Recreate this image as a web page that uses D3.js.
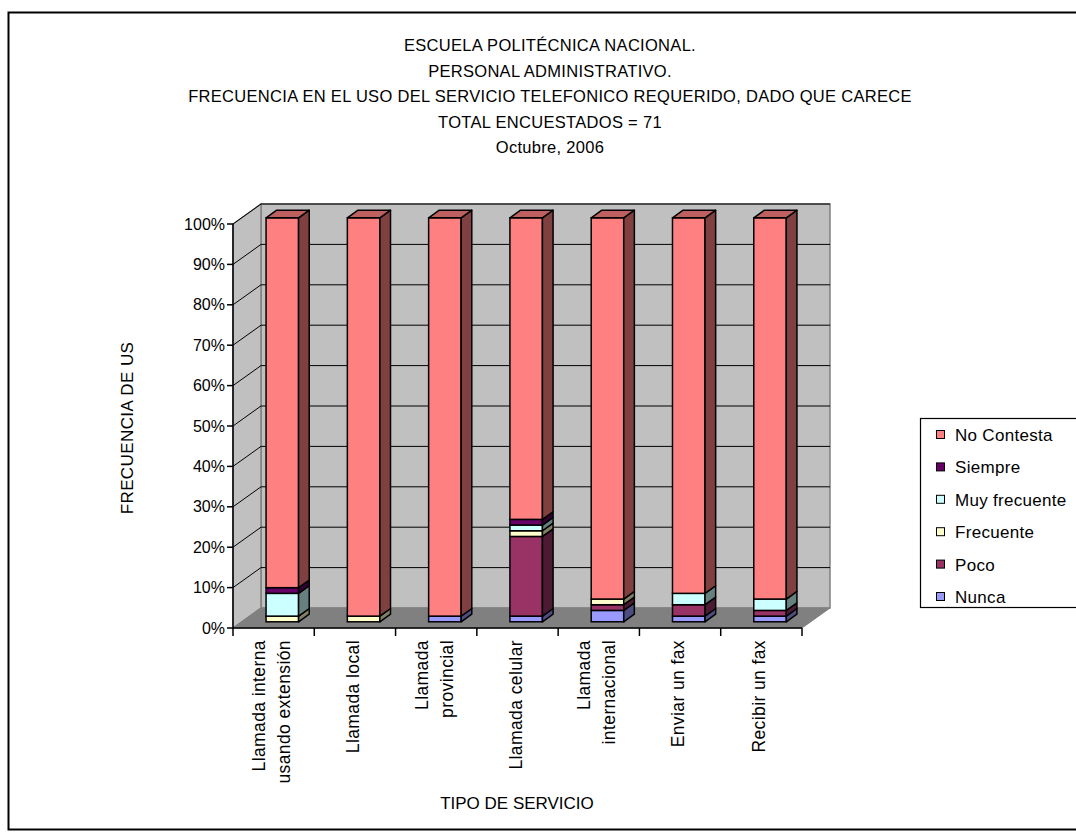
<!DOCTYPE html>
<html><head><meta charset="utf-8">
<script src="https://cdn.jsdelivr.net/npm/d3@7"></script>
<style>body{margin:0;background:#fff}svg{display:block}text{font-family:"Liberation Sans",Arial,sans-serif;fill:#000}</style>
</head><body>
<script>
const titleLines = ["ESCUELA POLITÉCNICA NACIONAL.","PERSONAL ADMINISTRATIVO.","FRECUENCIA EN EL USO DEL SERVICIO TELEFONICO REQUERIDO, DADO QUE CARECE","TOTAL ENCUESTADOS = 71","Octubre, 2006"];
const total = 71;
const categories = ["Llamada interna usando extensión","Llamada local","Llamada provincial","Llamada celular","Llamada internacional","Enviar un fax","Recibir un fax"];
const categoryLines = [["Llamada interna","usando extensión"],["Llamada local"],["Llamada","provincial"],["Llamada celular"],["Llamada","internacional"],["Enviar un fax"],["Recibir un fax"]];
const seriesNames = ["Nunca","Poco","Frecuente","Muy frecuente","Siempre","No Contesta"];
const nunca        = [0,0,1,1,2,1,1];
const poco         = [0,0,0,14,1,2,1];
const frecuente    = [1,1,0,1,1,0,0];
const muyFrecuente = [4,0,0,1,0,2,2];
const siempre      = [1,0,0,1,0,0,0];
const noContesta   = [65,70,70,53,67,66,67];
const seriesColors = ["#9999FF","#993366","#FFFFCC","#CCFFFF","#660066","#FF8080"];
const yTicks = [0,10,20,30,40,50,60,70,80,90,100];

const seriesValues = [nunca,poco,frecuente,muyFrecuente,siempre,noContesta];
const W=1076,H=840;
const svg=d3.select("body").append("svg").attr("width",W).attr("height",H);
svg.append("rect").attr("x",8.5).attr("y",12.5).attr("width",1080).attr("height",817).attr("fill","#fff").attr("stroke","#000").attr("stroke-width",2);

const x0=233,x1=802,yBot=628,yTop=224,DX=28,DY=-20;
const x=d3.scaleBand().domain(categories).range([x0,x1]).paddingInner(0.6).paddingOuter(0.3);
const y=d3.scaleLinear().domain([0,100]).range([yBot,yTop]);
const step=x.step();

// title
svg.append("g").selectAll("text").data(titleLines).join("text")
 .attr("x",550).attr("y",(d,i)=>51+i*25.5).attr("text-anchor","middle").attr("font-size",16.5).attr("letter-spacing",0.3).text(d=>d);

// walls
const g=svg.append("g");
g.append("polygon").attr("points",[[x0+DX,yTop+DY],[x1+DX,yTop+DY],[x1+DX,yBot+DY],[x0+DX,yBot+DY]].join(" ")).attr("fill","#C0C0C0").attr("stroke","#808080").attr("stroke-width",1.5);
g.append("polygon").attr("points",[[x0,yTop],[x0+DX,yTop+DY],[x0+DX,yBot+DY],[x0,yBot]].join(" ")).attr("fill","#C0C0C0").attr("stroke","#808080").attr("stroke-width",1.5);
g.append("polygon").attr("points",[[x0,yBot],[x1,yBot],[x1+DX,yBot+DY],[x0+DX,yBot+DY]].join(" ")).attr("fill","#808080").attr("stroke","#808080");
// gridlines
yTicks.filter(t=>t>0).forEach(t=>{
  g.append("line").attr("x1",x0).attr("y1",y(t)).attr("x2",x0+DX).attr("y2",y(t)+DY).attr("stroke","#000").attr("stroke-width",1);
  g.append("line").attr("x1",x0+DX).attr("y1",y(t)+DY).attr("x2",x1+DX).attr("y2",y(t)+DY).attr("stroke","#000").attr("stroke-width",1);
});

// bars
const f0=0.31,f1=0.69;
const fdx=DX*f0,fdy=DY*f0,bdx=DX*(f1-f0),bdy=DY*(f1-f0);
function shade(c,k){const r=d3.rgb(c);return d3.rgb(r.r*k,r.g*k,r.b*k).formatHex();}
const bars=svg.append("g");
categories.forEach((c,ci)=>{
  let cum=0;
  const bx=x(c)+fdx,bw=x.bandwidth();
  const segs=[];
  seriesValues.forEach((arr,si)=>{
    const v=arr[ci]/total*100;
    if(arr[ci]>0) segs.push({si,a:cum,b:cum+v});
    cum+=v;
  });
  segs.forEach((s,k)=>{
    const ya=y(s.a)+fdy,yb=y(s.b)+fdy,col=seriesColors[s.si];
    bars.append("rect").attr("x",bx).attr("y",yb).attr("width",bw).attr("height",ya-yb).attr("fill",col).attr("stroke","#000").attr("stroke-width",1.5);
    bars.append("polygon").attr("points",[[bx+bw,yb],[bx+bw+bdx,yb+bdy],[bx+bw+bdx,ya+bdy],[bx+bw,ya]].join(" ")).attr("fill",shade(col,0.5)).attr("stroke","#000").attr("stroke-width",1.5).attr("stroke-linejoin","round");
    if(k===segs.length-1){
      bars.append("polygon").attr("points",[[bx,yb],[bx+bdx,yb+bdy],[bx+bw+bdx,yb+bdy],[bx+bw,yb]].join(" ")).attr("fill",shade(col,0.75)).attr("stroke","#000").attr("stroke-width",1.5).attr("stroke-linejoin","round");
    }
  });
});

// y axis
const ya=svg.append("g");
ya.append("line").attr("x1",x0).attr("x2",x0).attr("y1",yTop).attr("y2",yBot).attr("stroke","#000").attr("stroke-width",1.5);
yTicks.forEach(t=>{
  ya.append("line").attr("x1",x0-6).attr("x2",x0).attr("y1",y(t)).attr("y2",y(t)).attr("stroke","#000").attr("stroke-width",1.5);
  ya.append("text").attr("x",x0-8).attr("y",y(t)+5.5).attr("text-anchor","end").attr("font-size",16).text(t+"%");
});
// x axis
const xa=svg.append("g");
xa.append("line").attr("x1",x0).attr("x2",x1).attr("y1",yBot).attr("y2",yBot).attr("stroke","#000").attr("stroke-width",1.5);
d3.range(categories.length+1).forEach(i=>{
  const xx=x0+i*step;
  xa.append("line").attr("x1",xx).attr("x2",xx).attr("y1",yBot).attr("y2",yBot+8).attr("stroke","#000").attr("stroke-width",1.5);
});
categories.forEach((c,ci)=>{
  const lines=categoryLines[ci];
  const cx=x(c)+x.bandwidth()/2-3;
  lines.forEach((ln,li)=>{
    const off=(li-(lines.length-1)/2)*25;
    xa.append("text").attr("transform",`translate(${cx+off+7},640) rotate(-90)`).attr("text-anchor","end").attr("font-size",17.5).attr("letter-spacing",0.4).text(ln);
  });
});
svg.append("text").attr("x",517).attr("y",809).attr("text-anchor","middle").attr("font-size",17).text("TIPO DE SERVICIO");
svg.append("text").attr("transform","translate(133,428) rotate(-90)").attr("text-anchor","middle").attr("font-size",17).attr("letter-spacing",0.4).text("FRECUENCIA DE US");

// legend
const lg=svg.append("g");
lg.append("rect").attr("x",920.5).attr("y",418.5).attr("width",170).attr("height",189).attr("fill","#fff").attr("stroke","#000").attr("stroke-width",1.2);
const legendOrder=seriesNames.map((n,i)=>i).reverse();
legendOrder.forEach((si,k)=>{
  const cy=435+k*32.4;
  lg.append("rect").attr("x",936.5).attr("y",cy-4.5).attr("width",8).attr("height",8).attr("fill",seriesColors[si]).attr("stroke","#000").attr("stroke-width",1);
  lg.append("text").attr("x",955).attr("y",cy+6).attr("font-size",17).attr("letter-spacing",0.3).text(seriesNames[si]);
});
</script>
</body></html>
